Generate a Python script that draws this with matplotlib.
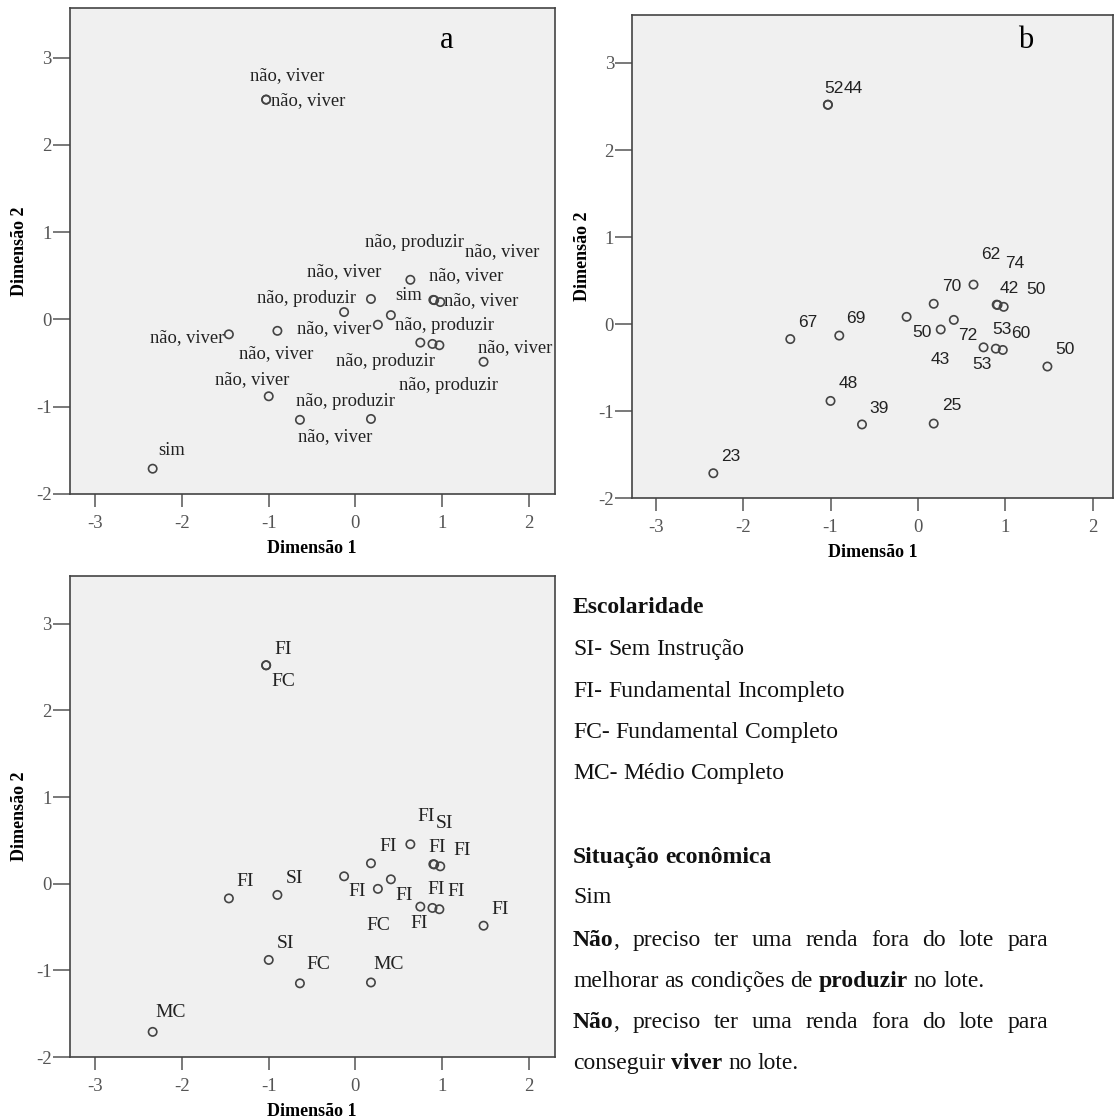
import matplotlib
matplotlib.use("Agg")
import matplotlib.pyplot as plt

plt.rcParams['font.family'] = ['Liberation Serif', 'DejaVu Serif']
plt.rcParams['axes.unicode_minus'] = False

# ---- dados: coordenadas dos 20 entrevistados (Dimensão 1, Dimensão 2) ----
dim1 = [-1.03, -1.03, -2.34, -1.46, -0.90, -1.00, -0.64, 0.18, -0.13, 0.18,
        0.26, 0.41, 0.635, 0.90, 0.91, 0.98, 0.75, 0.89, 0.97, 1.48]
dim2 = [2.52, 2.52, -1.71, -0.17, -0.13, -0.88, -1.15, -1.14, 0.085, 0.235,
        -0.06, 0.05, 0.455, 0.225, 0.222, 0.20, -0.265, -0.28, -0.295, -0.485]

situacao = ['não, viver', 'não, viver', 'sim', 'não, viver', 'não, viver',
            'não, viver', 'não, produzir', 'não, viver', 'não, produzir', 'não, viver',
            'não, viver', 'não, produzir', 'não, viver', 'sim', 'não, produzir',
            'não, viver', 'não, produzir', 'não, produzir', 'não, viver', 'não, viver']
idade = ['52', '44', '23', '67', '69', '48', '39', '25', '50', '70',
         '43', '72', '62', '42', '74', '50', '53', '60', '53', '50']
escolaridade = ['FI', 'FC', 'MC', 'FI', 'SI', 'SI', 'FC', 'MC', 'FI', 'FI',
                'FC', 'FI', 'FI', 'FI', 'SI', 'FI', 'FI', 'FI', 'FI', 'FI']

x_ticks = [-3, -2, -1, 0, 1, 2]
y_ticks = [-2, -1, 0, 1, 2, 3]

# deslocamento dos rótulos em pixels (layout, como no SPSS)
off_a = [(21, 24), (42, -1), (19, 18), (-42, -3), (-1, -23), (-17, 17), (46, 18),
         (-36, -18), (-38, 14), (-27, 27), (-44, -4), (54, -10), (56, 4), (-25, 4),
         (-20, 58), (41, 1), (-35, -19), (16, -42), (63, 94), (32, 14)]
off_b = [(6, 16), (25, 16), (17, 17), (17, 17), (17, 17), (18, 17), (17, 16),
         (18, 18), (15, -16), (18, 17), (0, -30), (14, -16), (17, 30), (13, 16),
         (17, 41), (32, 17), (18, 18), (25, 15), (-21, -15), (18, 17)]
off_c = [(17, 16), (17, -16), (18, 19), (16, 17), (17, 16), (17, 16), (18, 19),
         (18, 18), (13, -15), (17, 17), (0, -37), (13, -16), (16, 28), (4, 17),
         (10, 41), (22, 16), (16, 17), (24, 16), (-20, -14), (17, 16)]

W, H = 1115, 1120
fig = plt.figure(figsize=(W / 100, H / 100), dpi=100)


def px_axes(l, r, t, b):
    return fig.add_axes([l / W, 1 - b / H, (r - l) / W, (b - t) / H])


def style_axes(ax, xlim, ylim):
    ax.set_facecolor('#f0f0f0')
    ax.set_xlim(*xlim)
    ax.set_ylim(*ylim)
    ax.set_xticks(x_ticks)
    ax.set_yticks(y_ticks)
    for sp in ax.spines.values():
        sp.set_color('#444444')
        sp.set_linewidth(1.2)
    ax.tick_params(axis='x', direction='out', length=9, width=1.1, color='#555555',
                   labelsize=13.5, labelcolor='#555555', pad=6)
    ax.tick_params(axis='y', direction='out', length=12, width=1.1, color='#555555',
                   labelsize=13.5, labelcolor='#555555', pad=1)
    ax.set_xlabel('Dimensão 1', fontsize=13, fontweight='bold')
    ax.set_ylabel('Dimensão 2', fontsize=13, fontweight='bold')
    ax.xaxis.set_label_coords(0.5, -0.095)
    ax.yaxis.set_label_coords(-0.086, 0.5)


def draw_panel(ax, labels, offsets, family, size):
    ax.scatter(dim1, dim2, s=36, facecolors='none', edgecolors='#444444',
               linewidths=1.2, zorder=3)
    for x, y, txt, (dx, dy) in zip(dim1, dim2, labels, offsets):
        ax.annotate(txt, (x, y), xytext=(dx, dy), textcoords='offset pixels',
                    ha='center', va='center', fontsize=size, family=family,
                    color='#222222', zorder=4)


ax_a = px_axes(69.5, 554.6, 8, 494)
style_axes(ax_a, (-3.30, 2.30), (-2.0, 3.57))
draw_panel(ax_a, situacao, off_a, ['Liberation Serif'], 13.3)

ax_b = px_axes(632, 1113, 15, 498.5)
style_axes(ax_b, (-3.27, 2.23), (-2.0, 3.55))
draw_panel(ax_b, idade, off_b, ['Liberation Sans'], 12.5)

ax_c = px_axes(69.5, 554.6, 576, 1057)
style_axes(ax_c, (-3.30, 2.30), (-2.0, 3.55))
draw_panel(ax_c, escolaridade, off_c, ['Liberation Serif'], 14)

fig.text(447 / W, 1 - 40 / H, 'a', fontsize=22, ha='center', va='center')
fig.text(1026 / W, 1 - 40 / H, 'b', fontsize=22, ha='center', va='center')

# ---- texto explicativo à direita ----
legend_lines = [
    ('*Escolaridade*', 613, False),
    ('SI- Sem Instrução', 655, False),
    ('FI- Fundamental Incompleto', 697, False),
    ('FC- Fundamental Completo', 738, False),
    ('MC- Médio Completo', 779, False),
    ('*Situação* *econômica*', 863, False),
    ('Sim', 903, False),
    ('*Não*, preciso ter uma renda fora do lote para', 946, True),
    ('melhorar as condições de *produzir* no lote.', 987, False),
    ('*Não*, preciso ter uma renda fora do lote para', 1028, True),
    ('conseguir *viver* no lote.', 1069, False),
]
x_left, x_right = 573, 1048
fsize = 17
renderer = fig.canvas.get_renderer()


def parse_word(word):
    segs = []
    parts = word.split('*')
    for i, p in enumerate(parts):
        if p:
            segs.append((p, i % 2 == 1))
    return segs


def measure(s, bold):
    t = fig.text(0, 0, s, fontsize=fsize, fontweight='bold' if bold else 'normal')
    w = t.get_window_extent(renderer).width
    t.remove()
    return w


space_w = measure('a a', False) - measure('aa', False)

for line, ybase, justify in legend_lines:
    words = [parse_word(w) for w in line.split(' ')]
    widths = [[measure(s, b) for s, b in segs] for segs in words]
    word_w = [sum(ws) for ws in widths]
    if justify and len(words) > 1:
        gap = (x_right - x_left - sum(word_w)) / (len(words) - 1)
    else:
        gap = space_w
    x = x_left
    for segs, ws in zip(words, widths):
        for (s, b), w in zip(segs, ws):
            fig.text(x / W, 1 - ybase / H, s, fontsize=fsize,
                     fontweight='bold' if b else 'normal', ha='left', va='baseline',
                     color='#111111')
            x += w
        x += gap

fig.savefig('out.png', dpi=100)
